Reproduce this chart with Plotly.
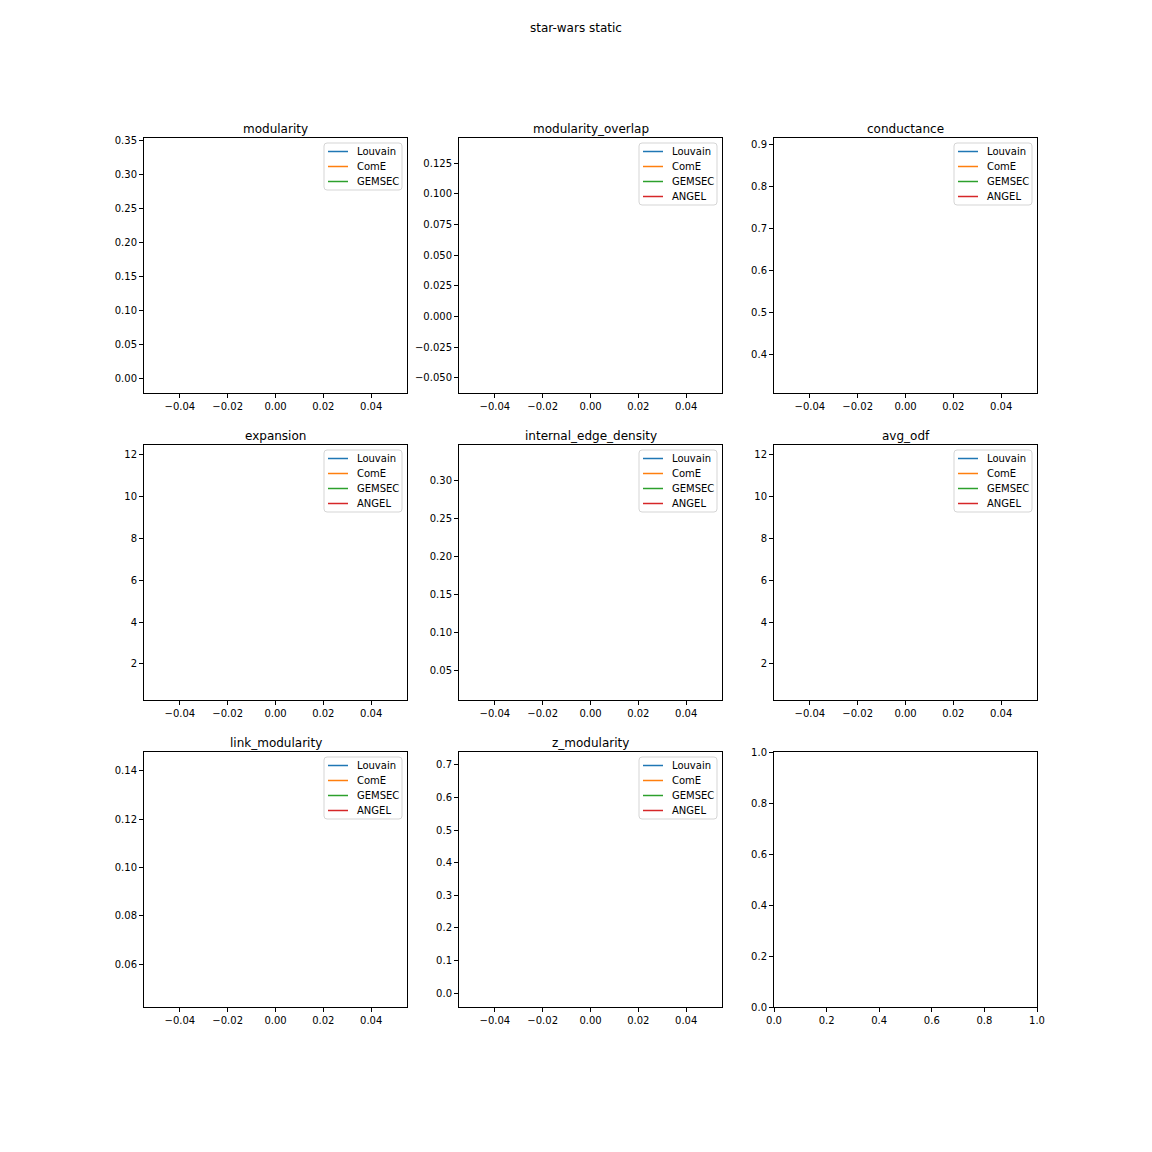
import plotly.graph_objects as go

# ---------------- data ----------------
algorithms = ["Louvain", "ComE", "GEMSEC", "ANGEL"]
colors = ["#1f77b4", "#ff7f0e", "#2ca02c", "#d62728"]

metric_names = ["modularity", "modularity_overlap", "conductance",
                "expansion", "internal_edge_density", "avg_odf",
                "link_modularity", "z_modularity"]

x_value = [0]

modularity = [0.336, 0.21, -0.005]              # no ANGEL
modularity_overlap = [0.136, 0.05, -0.053, 0.02]
conductance = [0.335, 0.62, 0.887, 0.75]
expansion = [0.83, 5.4, 11.92, 8.1]
internal_edge_density = [0.331, 0.12, 0.027, 0.2]
avg_odf = [0.83, 5.4, 11.92, 8.1]
link_modularity = [0.143, 0.09, 0.047, 0.11]
z_modularity = [0.704, 0.35, -0.007, 0.5]

metric_values = [modularity, modularity_overlap, conductance, expansion,
                 internal_edge_density, avg_odf, link_modularity, z_modularity]

y_dticks = [0.05, 0.025, 0.1, 2, 0.05, 2, 0.02, 0.1]
y_formats = [".2f", ".3f", ".1f", "d", ".2f", "d", ".2f", ".1f"]
x_ticks = [-0.04, -0.02, 0.0, 0.02, 0.04]
empty_ticks = [0.0, 0.2, 0.4, 0.6, 0.8, 1.0]

# ---------------- layout geometry (pixels) ----------------
W = H = 1152
col_px = [(144, 407), (459, 722), (774, 1037)]
row_px = [(138, 393), (445, 700), (752, 1007)]
FONT = "DejaVu Sans"


def auto_range(vals):
    lo, hi = min(vals), max(vals)
    if hi == lo:
        lo, hi = lo - 0.05, hi + 0.05
    pad = 0.05 * (hi - lo)
    return [lo - pad, hi + pad]


def px(x):
    return x / W


def py(y):
    return 1 - y / H


def rounded_rect_path(l, t, r, b, rad=3):
    pts = [
        f"M {px(l + rad)} {py(t)}",
        f"L {px(r - rad)} {py(t)}",
        f"Q {px(r)} {py(t)} {px(r)} {py(t + rad)}",
        f"L {px(r)} {py(b - rad)}",
        f"Q {px(r)} {py(b)} {px(r - rad)} {py(b)}",
        f"L {px(l + rad)} {py(b)}",
        f"Q {px(l)} {py(b)} {px(l)} {py(b - rad)}",
        f"L {px(l)} {py(t + rad)}",
        f"Q {px(l)} {py(t)} {px(l + rad)} {py(t)}",
        "Z",
    ]
    return " ".join(pts)


fig = go.Figure()
annotations = []
shapes = []
layout_updates = {}

for idx in range(9):
    r, c = divmod(idx, 3)
    n = idx + 1
    xa = "xaxis" if n == 1 else f"xaxis{n}"
    ya = "yaxis" if n == 1 else f"yaxis{n}"
    xref = "x" if n == 1 else f"x{n}"
    yref = "y" if n == 1 else f"y{n}"
    x0, x1 = col_px[c]
    y0, y1 = row_px[r]
    xdom = [px(x0), px(x1)]
    ydom = [py(y1), py(y0)]

    common = dict(showline=True, mirror=True, linecolor="black", linewidth=1,
                  ticks="outside", ticklen=4, tickwidth=1, tickcolor="black",
                  showgrid=False, zeroline=False, automargin=False,
                  tickfont=dict(family=FONT, size=10, color="black"))

    if idx < 8:
        vals = metric_values[idx]
        for k, v in enumerate(vals):
            fig.add_trace(go.Scatter(
                x=x_value, y=[v], mode="lines", name=algorithms[k],
                line=dict(color=colors[k], width=1.5),
                xaxis=xref, yaxis=yref, showlegend=False))
        layout_updates[xa] = dict(domain=xdom, anchor=yref,
                                  range=auto_range(x_value),
                                  tickvals=x_ticks, tickformat=".2f", **common)
        layout_updates[ya] = dict(domain=ydom, anchor=xref,
                                  range=auto_range(vals),
                                  dtick=y_dticks[idx], tick0=0,
                                  tickformat=y_formats[idx], **common)
        annotations.append(dict(
            text=metric_names[idx], x=(xdom[0] + xdom[1]) / 2, y=ydom[1],
            xref="paper", yref="paper", xanchor="center", yanchor="bottom",
            yshift=0, showarrow=False,
            font=dict(family=FONT, size=12, color="black")))

        # legend box (matplotlib style, upper right)
        box_w = 78
        bx1 = x1 - 5
        bx0 = bx1 - box_w
        by0 = y0 + 5
        n_items = len(vals)
        by1 = by0 + 8.5 + 15 * (n_items - 1) + 8.5
        shapes.append(dict(type="path", xref="paper", yref="paper",
                           path=rounded_rect_path(bx0, by0, bx1, by1),
                           line=dict(color="#d5d5d5", width=1),
                           fillcolor="rgba(255,255,255,0.8)", layer="above"))
        for k in range(n_items):
            ey = by0 + 8.5 + 15 * k
            shapes.append(dict(type="line", xref="paper", yref="paper",
                               x0=px(bx0 + 4), x1=px(bx0 + 24),
                               y0=py(ey), y1=py(ey),
                               line=dict(color=colors[k], width=1.5),
                               layer="above"))
            annotations.append(dict(
                text=algorithms[k], x=px(bx0 + 31), y=py(ey),
                xref="paper", yref="paper", xanchor="left", yanchor="middle",
                showarrow=False,
                font=dict(family=FONT, size=10, color="black")))
    else:
        fig.add_trace(go.Scatter(x=[0.5], y=[None], mode="lines", xaxis=xref,
                                 yaxis=yref, showlegend=False))
        layout_updates[xa] = dict(domain=xdom, anchor=yref, range=[0, 1],
                                  tickvals=empty_ticks, tickformat=".1f", **common)
        layout_updates[ya] = dict(domain=ydom, anchor=xref, range=[0, 1],
                                  tickvals=empty_ticks, tickformat=".1f", **common)

annotations.append(dict(
    text="star-wars static", x=0.5, y=py(28), xref="paper", yref="paper",
    xanchor="center", yanchor="middle", showarrow=False,
    font=dict(family=FONT, size=12, color="black")))

fig.update_layout(
    width=W, height=H,
    margin=dict(l=0, r=0, t=0, b=0, pad=0, autoexpand=False),
    paper_bgcolor="white", plot_bgcolor="white", showlegend=False,
    font=dict(family=FONT, size=10, color="black"),
    annotations=annotations, shapes=shapes, **layout_updates)

fig.write_html("out.html")
